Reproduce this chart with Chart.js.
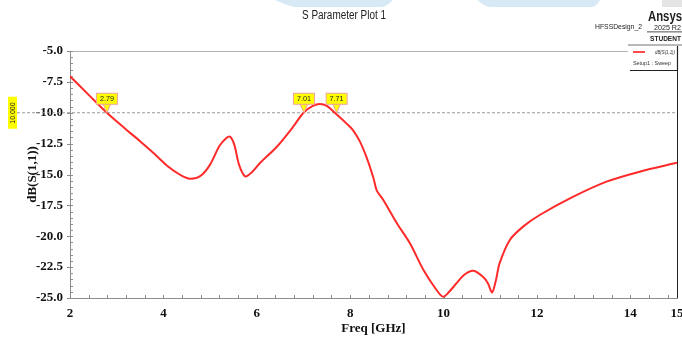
<!DOCTYPE html>
<html>
<head>
<meta charset="utf-8">
<script src="https://cdn.jsdelivr.net/npm/chart.js@4.4.1/dist/chart.umd.min.js"></script>
<style>
  body { margin: 0; background: #fff; }
  #wrap { width: 682px; height: 339px; }
</style>
</head>
<body>
<div id="wrap"><canvas id="myChart"></canvas></div>
<script>
// S11
var freq = [2.0, 2.4, 2.79, 3.2, 3.5, 3.8, 4.1, 4.35, 4.57, 4.8, 5.0, 5.2, 5.35, 5.43, 5.52, 5.62, 5.75, 5.9, 6.07, 6.43, 6.78, 7.0, 7.2, 7.35, 7.5, 7.67, 7.92, 8.06, 8.21, 8.35, 8.5, 8.57, 8.71, 9.0, 9.28, 9.57, 9.85, 9.99, 10.12, 10.28, 10.45, 10.64, 10.85, 10.95, 11.04, 11.12, 11.2, 11.42, 11.71, 12.06, 12.78, 13.49, 14.2, 15.0];
var s11 = [-7.05, -8.55, -10.0, -11.35, -12.3, -13.3, -14.35, -15.0, -15.35, -15.1, -14.2, -12.7, -12.05, -11.95, -12.6, -14.2, -15.15, -14.8, -14.07, -12.75, -11.13, -10.0, -9.45, -9.3, -9.45, -10.0, -10.86, -11.4, -12.34, -13.6, -15.3, -16.3, -17.06, -18.95, -20.57, -22.73, -24.35, -24.9, -24.5, -23.8, -23.1, -22.8, -23.3, -23.8, -24.55, -23.6, -22.2, -20.3, -19.2, -18.28, -16.8, -15.58, -14.77, -14.05];

var xTicks = [2, 4, 6, 8, 10, 12, 14, 15];
var markerFreqs = [2.79, 7.01, 7.71];
var markerLevel = -10;

var points = freq.map(function (f, i) { return { x: f, y: s11[i] }; });

// draw text squeezed into a given width
function fitText(c, text, x, y, w) {
  var m = c.measureText(text).width;
  c.save();
  c.translate(x, y);
  if (m > w) c.scale(w / m, 1);
  c.fillText(text, 0, 0);
  c.restore();
}

function blob(c, x0, x1, b0, b1, h) {
  c.beginPath();
  c.moveTo(x0, 0); c.lineTo(x1, 0);
  c.quadraticCurveTo(b1 + 4, h, b1, h);
  c.lineTo(b0, h);
  c.quadraticCurveTo(b0 - 4, h, x0, 0);
  c.fill();
}

var extras = {
  id: 'extras',
  beforeDatasetsDraw: function (chart) {
    var c = chart.ctx, a = chart.chartArea;
    var xs = chart.scales.x, ys = chart.scales.y;
    c.save();
    // watermark shapes at the very top
    c.fillStyle = '#d6e9f4';
    blob(c, 275, 393, 295, 382, 7);
    blob(c, 477, 600, 490, 592, 7);
    c.fillStyle = '#e4e4e4';
    c.fillRect(662, 0, 20, 7);

    // frame
    c.strokeStyle = '#b4b4b4';
    c.lineWidth = 1;
    c.beginPath();
    c.moveTo(a.left, a.top + 0.5); c.lineTo(628, a.top + 0.5);
    c.stroke();
    c.strokeStyle = '#222';
    c.beginPath();
    c.moveTo(a.right + 0.5, 70); c.lineTo(a.right + 0.5, a.bottom);
    c.stroke();

    // minor / major ticks
    c.strokeStyle = '#8c8c8c';
    c.beginPath();
    for (var v = -25; v <= -4.99; v += 0.5) {
      var py = Math.round(ys.getPixelForValue(v)) + 0.5;
      var major = Math.abs(v / 2.5 - Math.round(v / 2.5)) < 1e-6;
      c.moveTo(a.left - (major ? 3 : 0), py); c.lineTo(a.left + 3, py);
    }
    for (var f = 2; f <= 15.001; f += 0.4) {
      var px = Math.round(xs.getPixelForValue(f)) + 0.5;
      c.moveTo(px, a.bottom); c.lineTo(px, a.bottom - 3);
    }
    c.stroke();

    // dashed level line
    var yl = ys.getPixelForValue(markerLevel);
    c.strokeStyle = '#9a9a9a';
    c.setLineDash([3, 2]);
    c.beginPath();
    c.moveTo(17, yl); c.lineTo(a.right, yl);
    c.stroke();
    c.setLineDash([]);
    c.restore();
  },
  afterDraw: function (chart) {
    var c = chart.ctx;
    var xs = chart.scales.x, ys = chart.scales.y;
    var yl = ys.getPixelForValue(markerLevel);
    var sans = '"Liberation Sans", Arial, sans-serif';
    c.save();
    c.textBaseline = 'middle';
    c.textAlign = 'left';
    c.fillStyle = '#222';
    c.font = '12px ' + sans;
    fitText(c, 'S Parameter Plot 1', 302, 15.5, 84);

    // brand block
    c.font = 'bold 14px ' + sans;
    fitText(c, 'Ansys', 648, 17, 34);
    c.font = '8px ' + sans;
    fitText(c, 'HFSSDesign_2', 595, 27, 47);
    fitText(c, '2025 R2', 654, 28, 27);
    c.fillRect(647, 31.5, 35, 0.8);
    c.font = 'bold 8px ' + sans;
    fitText(c, 'STUDENT', 650, 39, 31);

    // legend box
    c.fillStyle = '#fff';
    c.fillRect(629, 45, 48, 25);
    c.fillStyle = '#b8b8b8';
    c.fillRect(628, 44, 54, 2);
    c.strokeStyle = '#222';
    c.lineWidth = 1.2;
    c.beginPath();
    c.moveTo(677.5, 46); c.lineTo(677.5, 70.5); c.lineTo(630, 70.5);
    c.stroke();
    c.strokeStyle = '#ff4a4a';
    c.lineWidth = 2;
    c.beginPath(); c.moveTo(633, 52); c.lineTo(645, 52); c.stroke();
    c.fillStyle = '#333';
    c.font = 'italic 6px ' + sans;
    fitText(c, 'dB(S(1,1))', 655, 52, 20);
    c.font = '6px ' + sans;
    fitText(c, 'Setup1 : Sweep', 633, 63, 38);

    // level flag on the left
    c.fillStyle = '#ffff00';
    c.fillRect(8, yl - 16, 9, 32);
    c.save();
    c.translate(12.5, yl);
    c.rotate(-Math.PI / 2);
    c.fillStyle = '#222';
    c.font = '7px ' + sans;
    fitText(c, '10.000', -11, 0.5, 22);
    c.restore();

    // crossing markers
    markerFreqs.forEach(function (mf) {
      var px = xs.getPixelForValue(mf);
      c.fillStyle = '#ffff00';
      c.strokeStyle = '#f0a0a0';
      c.lineWidth = 1;
      c.beginPath();
      c.moveTo(px - 4, yl - 9); c.lineTo(px + 4, yl - 9); c.lineTo(px, yl);
      c.closePath(); c.fill(); c.stroke();
      c.fillRect(px - 10.5, yl - 19.5, 21, 11);
      c.strokeRect(px - 10.5, yl - 19.5, 21, 11);
      c.fillStyle = '#222';
      c.font = '8px ' + sans;
      fitText(c, mf.toFixed(2), px - 7, yl - 13.5, 14);
    });
    c.restore();
  }
};

var ctx = document.getElementById('myChart').getContext('2d');
var myChart = new Chart(ctx, {
  type: 'line',
  data: {
    datasets: [{
      label: 'dB(S(1,1))',
      data: points,
      borderColor: '#ff2a2a',
      borderWidth: 2,
      pointRadius: 0,
      tension: 0.3,
      fill: false
    }]
  },
  options: {
    responsive: true,
    maintainAspectRatio: false,
    animation: false,
    layout: { padding: { left: 21, right: 5, top: 51, bottom: 0 } },
    plugins: {
      legend: { display: false },
      tooltip: { enabled: false }
    },
    scales: {
      x: {
        type: 'linear',
        min: 2,
        max: 15,
        afterBuildTicks: function (s) { s.ticks = xTicks.map(function (v) { return { value: v }; }); },
        afterFit: function (s) { s.height = 41; s.paddingLeft = 0; s.paddingRight = 0; },
        grid: { drawOnChartArea: false, drawTicks: false },
        border: { color: '#8c8c8c', width: 1 },
        ticks: {
          padding: 8,
          color: '#111',
          font: { family: '"Liberation Serif", "Times New Roman", serif', weight: 'bold', size: 13 },
          callback: function (v) { return v; }
        },
        title: {
          display: true,
          text: 'Freq [GHz]',
          color: '#111',
          padding: { top: 2, bottom: 3 },
          font: { family: '"Liberation Serif", "Times New Roman", serif', weight: 'bold', size: 13 }
        }
      },
      y: {
        min: -25,
        max: -5,
        afterFit: function (s) { s.width = 49; s.paddingTop = 0; s.paddingBottom = 0; },
        grid: { drawOnChartArea: false, drawTicks: false },
        border: { color: '#8c8c8c', width: 1 },
        ticks: {
          stepSize: 2.5,
          padding: 7,
          color: '#111',
          font: { family: '"Liberation Serif", "Times New Roman", serif', weight: 'bold', size: 13 },
          callback: function (v) { return v.toFixed(1); }
        },
        title: {
          display: true,
          text: 'dB(S(1,1))',
          color: '#111',
          padding: { top: 4, bottom: 4 },
          font: { family: '"Liberation Serif", "Times New Roman", serif', weight: 'bold', size: 13 }
        }
      }
    }
  },
  plugins: [extras]
});
</script>
</body>
</html>
